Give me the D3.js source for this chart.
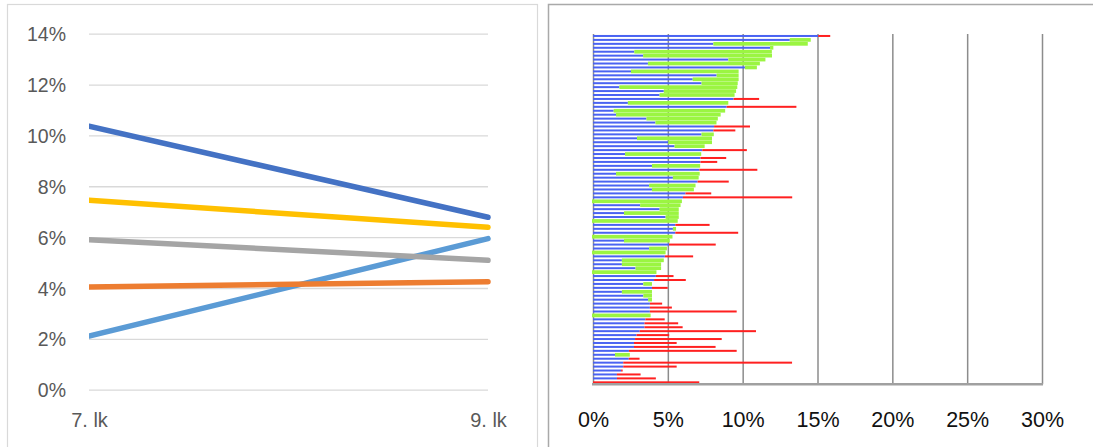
<!DOCTYPE html>
<html>
<head>
<meta charset="utf-8">
<script src="https://cdn.jsdelivr.net/npm/d3@7"></script>
<style>
  html, body { margin: 0; padding: 0; background: #fff; }
  svg { display: block; font-family: "Liberation Sans", Arial, sans-serif; }
</style>
</head>
<body>
<svg id="chart" width="1093" height="447"></svg>
<script>
// ---- Left panel: share by grade (two time points, five groups) ----
const periods = ["7. lk", "9. lk"];
const groupNames = ["g1", "g2", "g3", "g4", "g5"];
const groupColors = ["#5B9BD5", "#A5A5A5", "#ED7D31", "#FFC000", "#4472C4"];
const groupStart = [0.0211, 0.0590, 0.0404, 0.0745, 0.1036];
const groupEnd   = [0.0594, 0.0509, 0.0425, 0.0639, 0.0678];
const leftTicks = [0, 0.02, 0.04, 0.06, 0.08, 0.10, 0.12, 0.14];

// ---- Right panel: per-school values (blue = base, then green or red segment) ----
const baseShare = [
  15.05, 13.15, 8.04, 11.83, 2.76, 3.35, 9.04, 3.67, 10.15, 2.54,
  8.26, 6.66, 7.25, 1.76, 4.73, 4.45, 9.39, 2.33, 8.93, 1.38,
  1.54, 3.57, 4.17, 8.09, 8.04, 7.25, 2.94, 5.03, 5.45, 7.30,
  2.14, 7.18, 7.18, 3.94, 7.11, 1.54, 5.34, 6.99, 3.75, 3.94,
  6.18, 6.01, 0, 3.15, 4.45, 2.07, 4.85, 0, 5.50, 5.34,
  5.50, 0, 2.07, 5.08, 3.75, 0, 4.80, 1.93, 1.93, 2.84,
  0, 4.20, 4.08, 3.36, 3.94, 1.93, 3.36, 3.68, 3.80, 3.80,
  3.80, 0, 3.50, 3.44, 3.44, 3.12, 2.91, 2.81, 2.74, 2.74,
  2.40, 1.47, 2.39, 2.02, 2.02, 1.88, 1.60, 1.60, 0
];
const endShare = [
  15.85, 14.55, 14.35, 12.05, 11.95, 11.96, 11.52, 11.15, 10.95, 9.73,
  9.73, 9.73, 9.67, 9.64, 9.56, 9.46, 11.10, 9.04, 13.59, 8.83,
  8.53, 8.34, 8.25, 10.49, 9.51, 8.07, 7.95, 7.95, 7.46, 10.28,
  7.23, 8.90, 8.30, 7.16, 10.98, 7.13, 7.06, 9.07, 6.85, 6.74,
  7.90, 13.31, 5.94, 5.85, 5.73, 5.73, 5.73, 5.66, 7.79, 5.55,
  9.70, 5.31, 5.13, 8.20, 4.94, 4.85, 6.69, 4.73, 4.55, 4.55,
  4.24, 5.38, 6.20, 3.94, 4.99, 3.94, 3.94, 3.94, 4.62, 5.27,
  9.60, 3.85, 4.79, 5.69, 5.99, 10.89, 5.09, 8.60, 5.59, 8.19,
  9.60, 2.46, 3.11, 13.30, 5.59, 1.98, 3.18, 4.20, 7.10
];
// "g" = green segment, "r" = red segment
const segmentKind = [
  "r","g","g","g","g","g","g","g","g","g",
  "g","g","g","g","g","g","r","g","r","g",
  "g","g","g","r","r","g","g","g","g","r",
  "g","r","r","g","r","g","g","r","g","g",
  "r","r","g","g","g","g","g","g","r","g",
  "r","g","g","r","g","g","r","g","g","g",
  "g","r","r","g","r","g","g","g","r","r",
  "r","g","r","r","r","r","r","r","r","r",
  "r","g","r","r","r","r","r","r","r"
];
const rightTicks = [0, 0.05, 0.10, 0.15, 0.20, 0.25, 0.30];

const svg = d3.select("#chart");

// Panel frames
svg.append("rect")
  .attr("x", 7.5).attr("y", 4.5).attr("width", 530).attr("height", 470)
  .attr("fill", "none").attr("stroke", "#d9d9d9").attr("stroke-width", 1.2);
svg.append("rect")
  .attr("x", 548.5).attr("y", 4.5).attr("width", 600).attr("height", 470)
  .attr("fill", "none").attr("stroke", "#a9a9a9").attr("stroke-width", 1.5);

// ================= Left panel =================
const xL = d3.scalePoint().domain(periods).range([89, 488]);
const yL = d3.scaleLinear().domain([0, 0.14]).range([389.7, 33.7]);

const gyL = svg.append("g")
  .attr("transform", `translate(${xL.range()[0]},0)`)
  .call(d3.axisLeft(yL).tickValues(leftTicks).tickFormat(d3.format(".0%"))
    .tickSize(-(xL.range()[1] - xL.range()[0])).tickPadding(23));
gyL.select(".domain").remove();
gyL.selectAll(".tick line").attr("stroke", "#d9d9d9").attr("stroke-width", 1.3);
gyL.selectAll(".tick text")
  .attr("fill", "#595959").attr("font-size", 19.5).attr("dy", "0.36em");

const gxL = svg.append("g")
  .attr("transform", `translate(0,${yL(0)})`)
  .call(d3.axisBottom(xL).tickSize(0));
gxL.select(".domain").remove();
gxL.selectAll(".tick text")
  .attr("fill", "#595959").attr("font-size", 20).attr("y", 37.3).attr("dy", 0);

svg.append("clipPath").attr("id", "leftClip")
  .append("rect").attr("x", xL(periods[0])).attr("y", 0).attr("width", 460).attr("height", 447);

const line = d3.line().x(d => xL(d.p)).y(d => yL(d.v));
const lines = svg.append("g").attr("clip-path", "url(#leftClip)");
groupNames.forEach((name, i) => {
  const pts = [{p: periods[0], v: groupStart[i]}, {p: periods[1], v: groupEnd[i]}];
  lines.append("path")
    .datum(pts)
    .attr("d", line)
    .attr("fill", "none")
    .attr("stroke", groupColors[i])
    .attr("stroke-width", 5.5)
    .attr("stroke-linecap", "round");
});

// ================= Right panel =================
const xR = d3.scaleLinear().domain([0, 0.30]).range([593, 1042]);
const yR = d3.scaleBand().domain(d3.range(baseShare.length)).range([34, 384.3]).padding(0);
const plotTop = yR.range()[0], plotBottom = yR.range()[1];

const gxR = svg.append("g")
  .attr("transform", `translate(0,${plotBottom})`)
  .call(d3.axisBottom(xR).tickValues(rightTicks).tickFormat(d3.format(".0%"))
    .tickSize(-(plotBottom - plotTop)));
gxR.select(".domain").remove();
gxR.selectAll(".tick line").attr("stroke", "#8c8c8c").attr("stroke-width", 1.5);
gxR.selectAll(".tick text")
  .attr("fill", "#111").attr("font-size", 21.5).attr("y", 42.7).attr("dy", 0);

const rows = baseShare.map((b, i) => ({i, b: b / 100, e: endShare[i] / 100, k: segmentKind[i]}));
const bars = svg.append("g");
const cy = d => yR(d.i) + yR.bandwidth() / 2;

bars.selectAll("rect.base").data(rows.filter(d => d.b > 0)).join("rect")
  .attr("class", "base")
  .attr("x", xR(0)).attr("width", d => xR(d.b) - xR(0))
  .attr("y", d => cy(d) - 1).attr("height", 2)
  .attr("fill", "#4a63f2");

bars.selectAll("rect.red").data(rows.filter(d => d.k === "r")).join("rect")
  .attr("class", "red")
  .attr("x", d => xR(d.b)).attr("width", d => xR(d.e) - xR(d.b))
  .attr("y", d => cy(d) - 1).attr("height", 2)
  .attr("fill", "#ff2020");

bars.selectAll("rect.green").data(rows.filter(d => d.k === "g")).join("rect")
  .attr("class", "green")
  .attr("x", d => d.b === 0 ? xR(0) - 1 : xR(d.b)).attr("width", d => xR(d.e) - xR(d.b) + (d.b === 0 ? 1 : 0))
  .attr("y", d => cy(d) - 1.85).attr("height", 3.7)
  .attr("fill", "#9bf542");

svg.append("line")
  .attr("x1", xR(0) - 1).attr("x2", xR(0.30) + 1)
  .attr("y1", plotBottom).attr("y2", plotBottom)
  .attr("stroke", "#a0a0a0").attr("stroke-width", 2.5);
</script>
</body>
</html>
